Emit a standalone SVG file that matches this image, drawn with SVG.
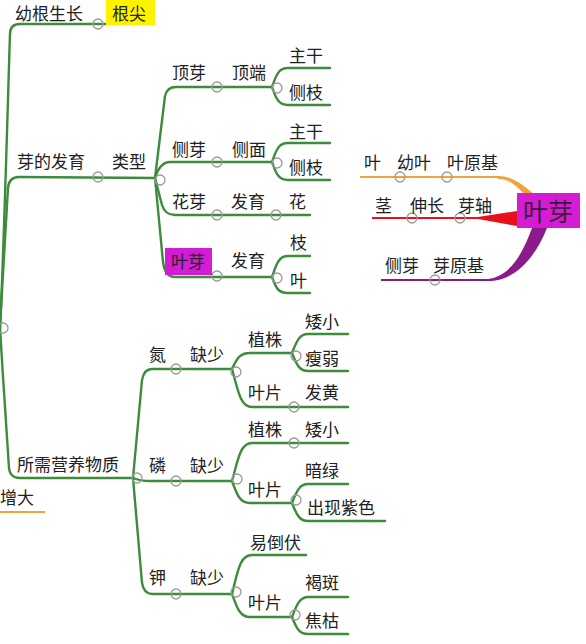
<svg xmlns="http://www.w3.org/2000/svg" width="586" height="644" viewBox="0 0 586 644">
<style>
text{font-family:"Noto Sans CJK SC","Noto Sans",sans-serif;font-size:17px;fill:#222}
.g{fill:none;stroke:#3c8c3c;stroke-width:2.4;stroke-linecap:round;stroke-linejoin:round}
.t{fill:none;stroke:#9a9a9a;stroke-width:1.3}
.big{font-size:25px;fill:#3a1a3a}
</style>
<rect width="586" height="644" fill="#fff"/>
<g id="connectors">
<path class="g" d="M0,328 C4,250 9,60 10,34 Q10,24 20,24 L106,24"/>
<path class="g" d="M0,328 C3,270 7,200 8,188 Q9,177 19,177 L155,178"/>
<path class="g" d="M0,328 C3,380 8,450 9,468 Q10,478 20,478 L133,478"/>
<path d="M0,512 L45,512" fill="none" stroke="#F2A33A" stroke-width="2"/>
<path class="g" d="M155,178 L165,96 Q167,87 176,87 L272,87"/>
<path class="g" d="M155,178 Q160,162 170,162 L272,162"/>
<path class="g" d="M155,178 L162,205 Q165,215 175,215 L310,215"/>
<path class="g" d="M155,178 L163,262 Q165,277 175,277 L272,277"/>
<path class="g" d="M272,87 C276,76 278,68 288,68 L330,68"/>
<path class="g" d="M272,87 C276,98 278,105 288,105 L330,105"/>
<path class="g" d="M272,162 C276,151 278,143 288,143 L330,143"/>
<path class="g" d="M272,162 C276,173 278,180 288,180 L330,180"/>
<path class="g" d="M272,277 C276,266 278,256 288,256 L310,256"/>
<path class="g" d="M272,277 C276,288 278,293 288,293 L310,293"/>
<path class="g" d="M133,478 L142,380 Q144,369 152,369 L232,369"/>
<path class="g" d="M133,478 Q140,481 150,481 L232,481"/>
<path class="g" d="M133,478 L142,583 Q144,594 152,594 L232,594"/>
<path class="g" d="M232,369 C237,358 240,353 250,353 L292,353"/>
<path class="g" d="M232,369 C238,390 240,407 252,407 L348,407"/>
<path class="g" d="M292,353 C297,340 300,334 308,334 L348,334"/>
<path class="g" d="M292,353 C297,366 300,371 308,371 L348,371"/>
<path class="g" d="M232,481 C238,460 240,443 252,443 L348,443"/>
<path class="g" d="M232,481 C237,495 240,503 250,503 L292,503"/>
<path class="g" d="M292,503 C297,490 300,484 308,484 L348,484"/>
<path class="g" d="M292,503 C297,516 300,521 308,521 L385,521"/>
<path class="g" d="M232,594 C238,570 240,555 252,555 L306,555"/>
<path class="g" d="M232,594 C237,608 240,617 250,617 L292,617"/>
<path class="g" d="M292,617 C297,604 300,597 308,597 L348,597"/>
<path class="g" d="M292,617 C297,630 300,634 308,634 L348,634"/>
<path d="M360,177 L500,177" fill="none" stroke="#F2A33A" stroke-width="2.2"/>
<path d="M498,176 C512,176 522,184 534,194 L525,195 C517,187 510,179 498,179 Z" fill="#F2A33A"/>
<path d="M372,218 L500,218" fill="none" stroke="#E8101A" stroke-width="2"/>
<path d="M478,217 L517,211 L517,226 L478,219 Z" fill="#E8101A"/>
<path d="M381,280 L492,280" fill="none" stroke="#8B1A8B" stroke-width="2"/>
<path d="M488,279 C510,276 522,255 532,228 L547,228 C535,258 515,281 488,281 Z" fill="#8B1A8B"/>
</g>
<g id="toggles">
<circle class="t" cx="98" cy="24" r="5"/><circle class="t" cx="98" cy="177" r="5"/>
<circle class="t" cx="160" cy="180" r="5"/><circle class="t" cx="217" cy="87" r="5"/>
<circle class="t" cx="277" cy="88" r="5"/><circle class="t" cx="217" cy="162" r="5"/>
<circle class="t" cx="277" cy="163" r="5"/><circle class="t" cx="217" cy="215" r="5"/>
<circle class="t" cx="276" cy="215" r="5"/><circle class="t" cx="217" cy="276" r="5"/>
<circle class="t" cx="277" cy="278" r="5"/><circle class="t" cx="3" cy="328" r="5"/>
<circle class="t" cx="137" cy="478" r="5"/><circle class="t" cx="176" cy="369" r="5"/>
<circle class="t" cx="236" cy="372" r="5"/><circle class="t" cx="296" cy="356" r="5"/>
<circle class="t" cx="294" cy="407" r="5"/><circle class="t" cx="176" cy="481" r="5"/>
<circle class="t" cx="237" cy="479" r="5"/><circle class="t" cx="294" cy="443" r="5"/>
<circle class="t" cx="296" cy="500" r="5"/><circle class="t" cx="176" cy="594" r="5"/>
<circle class="t" cx="236" cy="592" r="5"/><circle class="t" cx="295" cy="615" r="5"/>
<circle class="t" cx="400" cy="177" r="5"/><circle class="t" cx="447" cy="177" r="5"/>
<circle class="t" cx="412" cy="218" r="5"/><circle class="t" cx="460" cy="218" r="5"/>
<circle class="t" cx="435" cy="280" r="5"/>
</g>
<g id="n-youngen"><text x="15" y="20">幼根生长</text></g>
<g id="n-genjian"><rect x="106" y="0" width="49" height="25" fill="#FFF200"/><text x="112" y="20">根尖</text></g>
<g id="n-yafayu"><text x="17" y="168">芽的发育</text></g>
<g id="n-leixing"><text x="112" y="168">类型</text></g>
<g id="n-dingya"><text x="172" y="79">顶芽</text></g>
<g id="n-dingduan"><text x="232" y="79">顶端</text></g>
<g id="n-zhugan1"><text x="289" y="62">主干</text></g>
<g id="n-cezhi1"><text x="289" y="99">侧枝</text></g>
<g id="n-ceya"><text x="172" y="156">侧芽</text></g>
<g id="n-cemian"><text x="232" y="156">侧面</text></g>
<g id="n-zhugan2"><text x="289" y="138">主干</text></g>
<g id="n-cezhi2"><text x="289" y="174">侧枝</text></g>
<g id="n-huaya"><text x="172" y="208">花芽</text></g>
<g id="n-fayu1"><text x="231" y="208">发育</text></g>
<g id="n-hua"><text x="289" y="208">花</text></g>
<g id="n-yeya"><rect x="165" y="248" width="47" height="27" fill="#D41CD4"/><text x="171" y="268" fill="#3a1a3a">叶芽</text></g>
<g id="n-fayu2"><text x="231" y="267">发育</text></g>
<g id="n-zhi"><text x="290" y="249">枝</text></g>
<g id="n-ye"><text x="290" y="287">叶</text></g>
<g id="n-r-ye"><text x="364" y="169">叶</text></g>
<g id="n-r-youye"><text x="397" y="169">幼叶</text></g>
<g id="n-r-yeyuanji"><text x="447" y="169">叶原基</text></g>
<g id="n-r-jing"><text x="375" y="212">茎</text></g>
<g id="n-r-shenchang"><text x="410" y="212">伸长</text></g>
<g id="n-r-yazhou"><text x="458" y="212">芽轴</text></g>
<g id="n-r-ceya"><text x="385" y="272">侧芽</text></g>
<g id="n-r-yayuanji"><text x="433" y="272">芽原基</text></g>
<g id="n-r-yeya"><rect x="517" y="193" width="63" height="35" fill="#D41CD4"/><text class="big" x="523" y="221">叶芽</text></g>
<g id="n-yingyang"><text x="17" y="471">所需营养物质</text></g>
<g id="n-zengda"><text x="0" y="504">增大</text></g>
<g id="n-dan"><text x="149" y="361">氮</text></g>
<g id="n-queshao1"><text x="190" y="361">缺少</text></g>
<g id="n-zhizhu1"><text x="248" y="346">植株</text></g>
<g id="n-aixiao1"><text x="305" y="328">矮小</text></g>
<g id="n-shouruo"><text x="305" y="365">瘦弱</text></g>
<g id="n-yepian1"><text x="248" y="399">叶片</text></g>
<g id="n-fahuang"><text x="305" y="399">发黄</text></g>
<g id="n-lin"><text x="149" y="472">磷</text></g>
<g id="n-queshao2"><text x="190" y="472">缺少</text></g>
<g id="n-zhizhu2"><text x="248" y="436">植株</text></g>
<g id="n-aixiao2"><text x="305" y="436">矮小</text></g>
<g id="n-yepian2"><text x="248" y="496">叶片</text></g>
<g id="n-anlv"><text x="305" y="477">暗绿</text></g>
<g id="n-zise"><text x="307" y="514">出现紫色</text></g>
<g id="n-jia"><text x="149" y="584">钾</text></g>
<g id="n-queshao3"><text x="190" y="584">缺少</text></g>
<g id="n-yidaofu"><text x="250" y="549">易倒伏</text></g>
<g id="n-yepian3"><text x="248" y="609">叶片</text></g>
<g id="n-heban"><text x="305" y="589">褐斑</text></g>
<g id="n-jiaoku"><text x="305" y="627">焦枯</text></g>
</svg>
